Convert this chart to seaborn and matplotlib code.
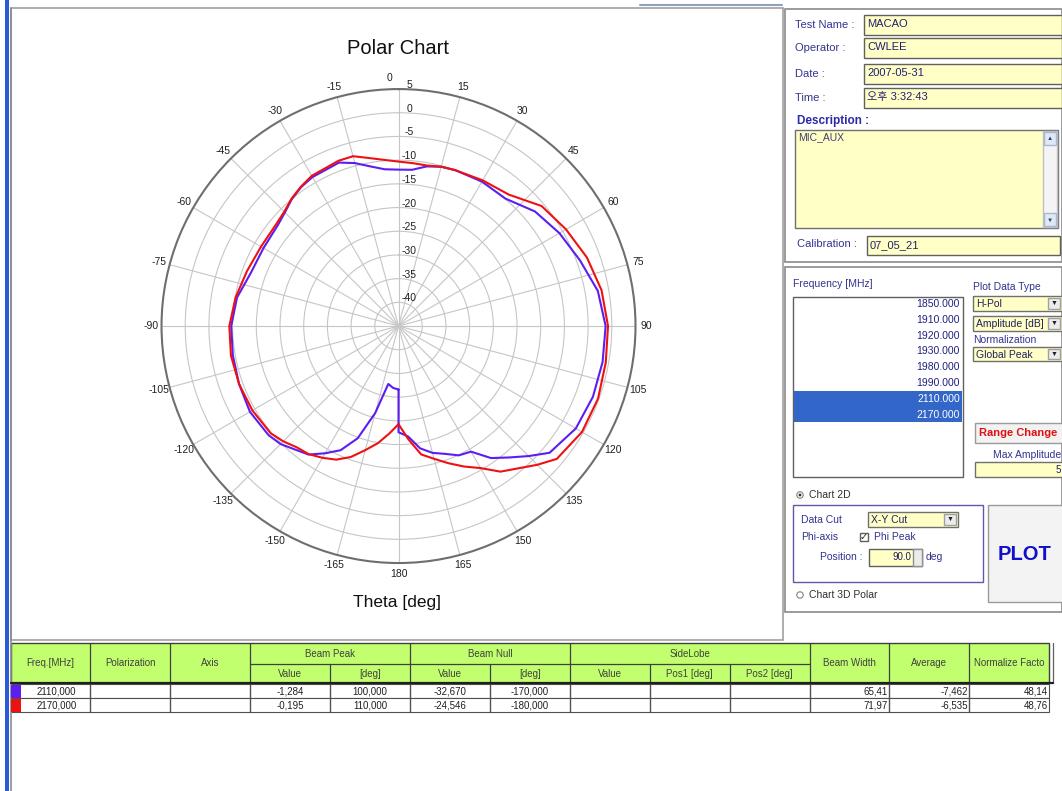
import numpy as np
import pandas as pd
import seaborn as sns
import matplotlib.pyplot as plt
from matplotlib.patches import Rectangle, Circle
from matplotlib.transforms import offset_copy

# ---- pattern data (theta in deg, amplitude in dB) ----
theta_deg = [-180, -175, -170, -165, -160, -155, -150, -145, -140, -135, -130, -120, -110,
             -100, -90, -80, -70, -60, -50, -45, -40, -35, -30, -20, -15, -10, -5, 0, 5, 10,
             15, 20, 30, 40, 50, 60, 70, 80, 90, 100, 110, 120, 130, 135, 140, 145, 150, 155,
             160, 165, 170, 175, 180]
db_2110 = [-31.6, -31.9, -32.6, -26.0, -19.8, -16.1, -14.0, -11.9, -11.0, -9.8, -9.2, -8.8, -9.2,
           -9.5, -9.7, -10.4, -11.9, -12.1, -11.8, -11.1, -10.0, -9.2, -8.7, -8.3, -9.4, -10.8, -11.8,
           -12.0, -11.9, -10.8, -10.2, -10.0, -9.8, -9.9, -7.4, -5.8, -4.3, -2.3, -1.3, -1.28, -1.35,
           -1.8, -3.4, -6.2, -8.8, -11.0, -14.4, -14.9, -16.3, -17.3, -18.8, -21.6, -22.6]
db_2170 = [-24.3, -22.2, -19.9, -17.9, -15.6, -13.9, -12.9, -12.0, -11.6, -10.6, -9.8, -9.4, -9.2,
           -9.1, -9.3, -10.1, -11.0, -11.5, -11.4, -10.9, -9.9, -9.1, -8.4, -7.9, -7.9, -9.0, -9.8,
           -10.3, -10.5, -10.6, -10.2, -10.0, -9.5, -8.8, -5.6, -4.2, -2.7, -1.5, -0.8, -0.6, -0.2,
           -0.3, -1.4, -3.6, -5.8, -7.5, -10.4, -12.3, -14.2, -16.0, -17.5, -21.0, -24.3]

angle_ticks = [0, 15, 30, 45, 60, 75, 90, 105, 120, 135, 150, 165, 180,
               195, 210, 225, 240, 255, 270, 285, 300, 315, 330, 345]
angle_labels = ['0', '15', '30', '45', '60', '75', '90', '105', '120', '135', '150', '165', '180',
                '-165', '-150', '-135', '-120', '-105', '-90', '-75', '-60', '-45', '-30', '-15']
ring_values = [-40, -35, -30, -25, -20, -15, -10, -5, 0, 5]

# ---- side panel / table content ----
freq_list = ['1850.000', '1910.000', '1920.000', '1930.000', '1980.000', '1990.000', '2110.000', '2170.000']
selected = ['2110.000', '2170.000']
row_freq = ['2110,000', '2170,000']
peak_val = ['-1,284', '-0,195']
peak_deg = ['100,000', '110,000']
null_val = ['-32,670', '-24,546']
null_deg = ['-170,000', '-180,000']
beam_width = ['65,41', '71,97']
average = ['-7,462', '-6,535']
norm_factor = ['48,14', '48,76']

BLUE = '#5b1ef2'
RED = '#ee1111'
NAVY = '#33338f'
YELLOW = '#ffffc6'
GREEN = '#c2ff6e'

sns.set_style('white')
plt.rcParams['font.family'] = ['Liberation Sans', 'Noto Sans CJK KR', 'DejaVu Sans']

fig = plt.figure(figsize=(10.62, 7.91), dpi=100)
ui = fig.add_axes([0, 0, 1, 1])
ui.set_xlim(0, 1062)
ui.set_ylim(791, 0)
ui.axis('off')


def rect(x0, y0, x1, y1, fc='none', ec='#8a8a8a', lw=1.0, z=1):
    ui.add_patch(Rectangle((x0, y0), x1 - x0, y1 - y0, facecolor=fc, edgecolor=ec, linewidth=lw, zorder=z))


def label(x, y, s, size=8, color=NAVY, ha='left', weight='normal', z=3):
    ui.text(x, y, s, fontsize=size, color=color, ha=ha, va='center', fontweight=weight, zorder=z)


def dropdown(x0, y0, x1, y1, s):
    rect(x0, y0, x1, y1, fc=YELLOW, ec='#707070')
    rect(x1 - 14, y0 + 2, x1 - 2, y1 - 2, fc='#ececec', ec='#a0a0a0')
    ui.text(x1 - 8, (y0 + y1) / 2, '\u25bc', fontsize=5, ha='center', va='center', color='#202020', zorder=3)
    label(x0 + 3, (y0 + y1) / 2 + 0.5, s, size=7.5, color='#202060')


# window frames
rect(5, 0, 8.5, 791, fc='#2a5ad8', ec='none')
ui.plot([10.5, 10.5], [8, 791], color='#8c8c8c', lw=1.2)
rect(10.5, 8, 783, 640, ec='#a0a0a0', lw=1.2)
ui.plot([640, 782], [5, 5], color='#8fa0bf', lw=1.5)
rect(785, 9, 1062, 262, ec='#8a8a8a', lw=1.2)
rect(785, 267, 1062, 612, ec='#8a8a8a', lw=1.2)

# chart titles
ui.text(398, 48, 'Polar Chart', fontsize=14.5, ha='center', va='center', color='#101010')
ui.text(397, 603, 'Theta [deg]', fontsize=12.5, ha='center', va='center', color='#101010')

# info fields
for y, lab, val in [(25, 'Test Name :', 'MACAO'), (48, 'Operator :', 'CWLEE'),
                    (74, 'Date :', '2007-05-31'), (98, 'Time :', '오후 3:32:43')]:
    label(795, y, lab, size=8)
    rect(864, y - 10, 1062, y + 10, fc=YELLOW, ec='#606060')
    label(867, y - 1, val, size=8, color='#202070')
label(797, 121, 'Description :', size=8.5, color='#2a2aa8', weight='bold')
rect(795, 130, 1058, 228, fc=YELLOW, ec='#707070')
rect(1043, 131, 1057, 227, fc='#f4f4f4', ec='#c0c0c0')
rect(1044, 132, 1056, 145, fc='#dfe8f5', ec='#a8b8d0')
rect(1044, 213, 1056, 226, fc='#dfe8f5', ec='#a8b8d0')
ui.text(1050, 139, '\u25b2', fontsize=4.5, ha='center', va='center', color='#304070', zorder=3)
ui.text(1050, 220, '\u25bc', fontsize=4.5, ha='center', va='center', color='#304070', zorder=3)
label(798, 137, 'MIC_AUX', size=7.5, color='#404070')
label(797, 244, 'Calibration :', size=8)
rect(867, 236, 1060, 255, fc=YELLOW, ec='#606060')
label(870, 245, '07_05_21', size=8, color='#202070')

# frequency list
label(793, 284, 'Frequency [MHz]', size=7.5)
rect(793, 297, 963, 477, fc='white', ec='#606060')
for i, f in enumerate(freq_list):
    y = 304 + i * 15.8
    if f in selected:
        rect(794, y - 8, 962, y + 7.8, fc='#3366c9', ec='none', z=2)
    label(960, y, f, size=7.5, ha='right', color='white' if f in selected else '#202080')

label(973, 287, 'Plot Data Type', size=7.5)
dropdown(973, 296, 1062, 311, 'H-Pol')
dropdown(973, 316, 1062, 331, 'Amplitude [dB]')
label(973, 340, 'Normalization', size=7.5)
dropdown(973, 347, 1062, 361, 'Global Peak')
rect(975, 423, 1064, 443, fc='#f2f2f2', ec='#9a9a9a')
label(979, 433, 'Range Change', size=8, color='#e01010', weight='bold')
label(993, 455, 'Max Amplitude', size=7.5)
rect(975, 462, 1064, 477, fc=YELLOW, ec='#707070')
label(1061, 470, '5', size=7, ha='right', color='#202070')

ui.add_patch(Circle((800, 495), 3.2, facecolor='white', edgecolor='#808080', lw=0.8, zorder=2))
ui.add_patch(Circle((800, 495), 1.4, facecolor='#303030', edgecolor='none', zorder=3))
label(809, 495, 'Chart 2D', size=7.5, color='#303030')
rect(793, 505, 983, 582, ec='#5a5aa8', lw=1.0)
label(801, 520, 'Data Cut', size=7.5)
dropdown(868, 512, 958, 527, 'X-Y Cut')
label(801, 537, 'Phi-axis', size=7.5)
rect(860, 533, 868, 541, fc='white', ec='#606060')
ui.text(864, 537, '\u2713', fontsize=7, ha='center', va='center', color='#202020',
        family=['DejaVu Sans'], zorder=3)
label(874, 537, 'Phi Peak', size=7.5)
label(820, 557, 'Position :', size=7.5)
rect(869, 549, 922, 566, fc=YELLOW, ec='#606060')
rect(913, 549, 922, 566, fc='#ececec', ec='#909090')
label(911, 557, '90.0', size=7, ha='right', color='#202060')
label(926, 557, 'deg', size=7.5)
rect(988, 505, 1064, 602, fc='#f3f3f3', ec='#9a9a9a')
ui.text(1025, 555, 'PLOT', fontsize=14.5, fontweight='heavy', color='#1010c8', ha='center', va='center', zorder=3)
ui.add_patch(Circle((800, 595), 3.2, facecolor='white', edgecolor='#808080', lw=0.8, zorder=2))
label(809, 595, 'Chart 3D Polar', size=7.5, color='#303030')

# ---- result table ----
cw = 79.9
cx = [10.5 + cw * i for i in range(14)]
rect(cx[0], 643, cx[13], 683, fc=GREEN, ec='#404040', lw=1.0)
for i in range(1, 13):
    top = 664 if i in (4, 6, 8, 9) else 643
    ui.plot([cx[i], cx[i]], [top, 712], color='#404040', lw=0.9, zorder=2)
ui.plot([cx[3], cx[10]], [664, 664], color='#404040', lw=0.9, zorder=2)
hdr = {0: 'Freq.[MHz]', 1: 'Polarization', 2: 'Axis', 10: 'Beam Width', 11: 'Average', 12: 'Normalize Facto'}
for i, s in hdr.items():
    label((cx[i] + cx[i + 1]) / 2, 663, s, size=7, color='#404040', ha='center')
for s, a, b in [('Beam Peak', 3, 5), ('Beam Null', 5, 7), ('SideLobe', 7, 10)]:
    label((cx[a] + cx[b]) / 2, 654, s, size=7, color='#404040', ha='center')
for i, s in enumerate(['Value', '[deg]', 'Value', '[deg]', 'Value', 'Pos1 [deg]', 'Pos2 [deg]']):
    label((cx[3 + i] + cx[4 + i]) / 2, 674, s, size=7, color='#404040', ha='center')
ui.plot([cx[0], cx[13] + 4], [683, 683], color='#202020', lw=1.6, zorder=3)
ui.plot([cx[13] + 4, cx[13] + 4], [643, 683], color='#606060', lw=0.9)
for r, col in enumerate([BLUE, RED]):
    y0 = 684 + r * 14
    rect(cx[0], y0, cx[13], y0 + 14, fc='white', ec='#505050', lw=0.8)
    rect(cx[0] + 0.5, y0 + 0.5, cx[0] + 10, y0 + 13.5, fc=col, ec='none', z=2)
    yc = y0 + 7
    label(cx[1] - 14, yc, row_freq[r], size=7, color='#202020', ha='right')
    for i, s in [(3, peak_val[r]), (4, peak_deg[r]), (5, null_val[r]), (6, null_deg[r])]:
        label((cx[i] + cx[i + 1]) / 2, yc, s, size=7, color='#202020', ha='center')
    for i, s in [(10, beam_width[r]), (11, average[r]), (12, norm_factor[r])]:
        label(cx[i + 1] - 1.5, yc, s, size=7, color='#202020', ha='right')
for i in range(1, 13):
    ui.plot([cx[i], cx[i]], [684, 712], color='#505050', lw=0.8, zorder=2)

# ---- polar chart ----
ax = fig.add_axes([0.1521, 0.2882, 0.4463, 0.5992], projection='polar')
ax.set_facecolor('white')
rows = []
for name, vals in [('2110', db_2110), ('2170', db_2170)]:
    for t, v in zip(theta_deg + [theta_deg[0]], vals + [vals[0]]):
        rows.append({'theta': np.deg2rad(t), 'db': v, 'freq': name})
df = pd.DataFrame(rows)
sns.lineplot(data=df, x='theta', y='db', hue='freq', palette=[BLUE, RED], sort=False,
             estimator=None, legend=False, ax=ax, lw=1.5)
ax.set_theta_zero_location('N')
ax.set_theta_direction(-1)
ax.set_rlim(-45, 5)
ax.set_xticks(np.deg2rad(angle_ticks))
ax.set_xticklabels([])
ax.set_yticks(ring_values[:-1])
ax.set_yticklabels([])
ax.grid(True, color='#c6c6c6', lw=0.8)
ax.spines['polar'].set_color('#6e6e6e')
ax.spines['polar'].set_linewidth(1.5)
ax.set_xlabel('')
ax.set_ylabel('')

for a, s in zip(angle_ticks, angle_labels):
    a_pos = a - 2 if a == 0 else a
    ax.text(np.deg2rad(a_pos), 7.3, s, fontsize=7.5, ha='center', va='center', color='#202020', clip_on=False)
tr = offset_copy(ax.transData, fig=fig, x=11, y=4, units='dots')
for v in ring_values:
    ax.text(0, v, str(v), transform=tr, fontsize=7.5, ha='center', va='center', color='#202020')

fig.savefig('out.png', dpi=100)
